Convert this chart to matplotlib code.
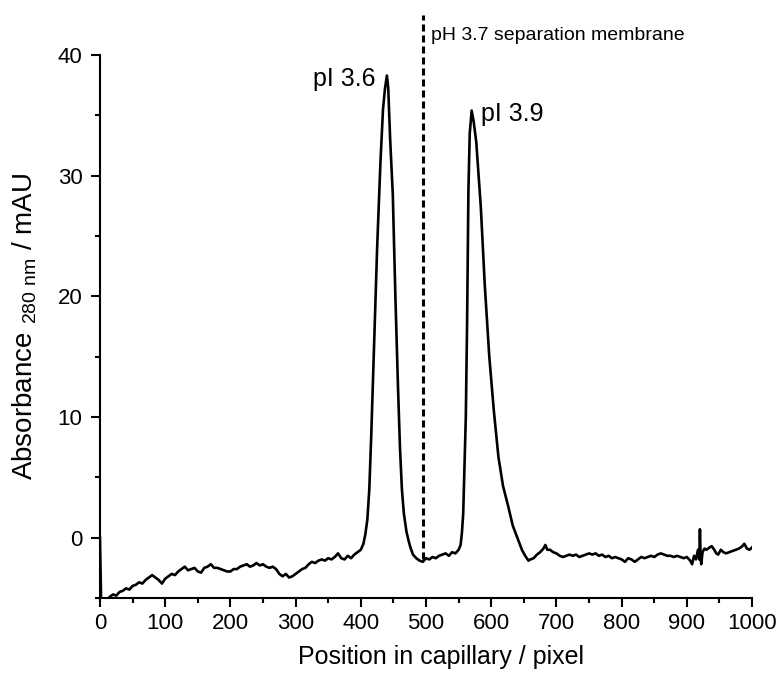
import matplotlib
matplotlib.use("Agg")
import matplotlib.pyplot as plt
from matplotlib.ticker import MultipleLocator

plt.rcParams['font.family'] = ['Liberation Sans', 'DejaVu Sans']
plt.rcParams['mathtext.fontset'] = 'custom'
plt.rcParams['mathtext.rm'] = 'Liberation Sans'

# Trace
position = [0, 2, 5, 10, 15, 20, 25, 30, 35, 40, 45, 50, 55, 60, 65, 70, 75, 80, 85, 90, 95,
            100, 105, 110, 115, 120, 125, 130, 135, 140, 145, 150, 155, 160, 165, 170, 175, 180,
            185, 190, 195, 200, 205, 210, 215, 220, 225, 230, 235, 240, 245, 250, 255, 260, 265,
            270, 275, 280, 285, 290, 295, 300, 305, 310, 315, 320, 325, 330, 335, 340, 345, 350,
            355, 360, 365, 370, 375, 380, 385, 390, 395, 400, 404, 407, 410, 413, 416, 420, 425,
            430, 434, 437, 440, 442, 445, 449, 453, 457, 460, 463, 466, 470, 473, 476, 480, 485,
            490, 495, 500, 505, 510, 515, 520, 525, 530, 535, 540, 545, 550, 553, 555, 557, 559,
            561, 563, 565, 567, 570, 573, 577, 580, 584, 590, 597, 604, 611, 618, 626, 633, 640,
            647, 652, 657, 660, 665, 670, 675, 680, 683, 686, 690, 695, 700, 705, 710, 715, 720,
            725, 730, 735, 740, 745, 750, 755, 760, 765, 770, 775, 780, 785, 790, 795, 800, 805,
            810, 815, 820, 825, 830, 835, 840, 845, 850, 855, 860, 865, 870, 875, 880, 885, 890,
            895, 900, 905, 908, 911, 914, 917, 919, 920, 921, 922, 924, 927, 930, 935, 938, 942,
            945, 948, 952, 956, 960, 965, 970, 975, 980, 985, 988, 992, 996, 1000]
absorbance = [0.0, -6.0, -5.6, -5.2, -4.9, -4.7, -4.8, -4.5, -4.4, -4.2, -4.3, -4.0, -3.9, -3.7,
              -3.8, -3.5, -3.3, -3.1, -3.3, -3.5, -3.8,
              -3.4, -3.2, -3.0, -3.1, -2.8, -2.6, -2.4, -2.7, -2.6, -2.5, -2.8, -2.9, -2.5, -2.4,
              -2.2, -2.5, -2.5, -2.6, -2.7, -2.8, -2.8, -2.6, -2.6, -2.4, -2.3, -2.2, -2.4, -2.3,
              -2.1, -2.3, -2.2, -2.4, -2.5, -2.4, -2.6, -3.0, -3.2, -3.0, -3.3, -3.2, -3.0, -2.8,
              -2.6, -2.5, -2.2, -2.0, -2.1, -1.9, -1.8, -1.9, -1.7, -1.8, -1.6, -1.3, -1.7, -1.8,
              -1.5, -1.7, -1.4, -1.2, -1.0, -0.5, 0.3, 1.5, 4.0, 8.5, 15.5, 24.0,
              31.0, 35.5, 37.2, 38.3, 37.3, 33.0, 28.5, 20.0, 12.5, 7.5, 4.0, 2.0, 0.5, -0.2, -0.8,
              -1.4, -1.7,
              -1.9, -2.0, -1.7, -1.8, -1.6, -1.7, -1.5, -1.4, -1.3, -1.5, -1.2, -1.3, -1.0, -0.6,
              0.4, 2.0, 6.0,
              10.0, 18.0, 28.8, 33.5, 35.4, 34.5, 32.8, 30.5, 27.4, 21.0, 15.0, 10.5, 6.7, 4.3,
              2.6, 1.0, 0.0,
              -1.0, -1.5, -1.9, -1.8, -1.7, -1.4, -1.2, -0.9, -0.6, -1.0, -1.0, -1.2, -1.3, -1.5,
              -1.6, -1.5, -1.4,
              -1.5, -1.4, -1.6, -1.5, -1.4, -1.3, -1.4, -1.3, -1.5, -1.4, -1.6, -1.5, -1.7, -1.6,
              -1.7, -1.8, -2.0,
              -1.7, -1.8, -2.0, -1.8, -1.6, -1.7, -1.6, -1.5, -1.6, -1.4, -1.3, -1.4, -1.5, -1.5,
              -1.6, -1.5, -1.6,
              -1.7, -1.6, -1.9, -2.2, -1.5, -1.8, -1.0, -1.8, 0.7, -1.5, -2.2, -1.2, -0.9, -1.0,
              -0.8, -0.7, -1.0,
              -1.3, -1.4, -1.0, -1.2, -1.3, -1.2, -1.1, -1.0, -0.9, -0.7, -0.5, -0.9, -1.0, -0.8]

membrane_position = 495
membrane_span = [-1.8, 43.3]
peak_labels = ["pI 3.6", "pI 3.9"]
peak_positions = [440, 570]
peak_heights = [38.3, 35.4]

xticks = [0, 100, 200, 300, 400, 500, 600, 700, 800, 900, 1000]
yticks = [0, 10, 20, 30, 40]

fig = plt.figure(figsize=(7.81, 6.73), dpi=100)
ax = fig.add_axes([0.128, 0.1114, 0.835, 0.8068])

ax.plot(position, absorbance, color='black', lw=1.9, solid_joinstyle='round')
ax.plot([membrane_position, membrane_position], membrane_span, color='black', lw=2.2,
        dashes=(2.3, 1.3), clip_on=False)

ax.set_xlim(0, 1000)
ax.set_ylim(-5, 40)
ax.set_xticks(xticks)
ax.set_yticks(yticks)
ax.xaxis.set_minor_locator(MultipleLocator(50))
ax.yaxis.set_minor_locator(MultipleLocator(5))

for s in ['top', 'right']:
    ax.spines[s].set_visible(False)
for s in ['left', 'bottom']:
    ax.spines[s].set_linewidth(1.5)

ax.tick_params(which='major', direction='out', length=6.5, width=1.5, labelsize=16)
ax.tick_params(which='minor', direction='out', length=3.6, width=1.5)
ax.tick_params(axis='x', which='major', pad=4)
ax.tick_params(axis='y', which='major', pad=6)

ax.set_xlabel('Position in capillary / pixel', fontsize=18)
ax.set_ylabel(r'Absorbance $_{\mathregular{280\ nm}}$ / mAU', fontsize=20)
ax.xaxis.set_label_coords(0.523, -0.086)
ax.yaxis.set_label_coords(-0.094, 0.5)

ax.text(peak_positions[0] - 17, peak_heights[0] - 0.3, peak_labels[0], fontsize=18,
        ha='right', va='center')
ax.text(peak_positions[1] + 15, peak_heights[1] - 0.3, peak_labels[1], fontsize=18,
        ha='left', va='center')
ax.text(membrane_position + 13, 41.6, 'pH 3.7 separation membrane', fontsize=14,
        ha='left', va='center')

fig.savefig('out.png', dpi=100)
